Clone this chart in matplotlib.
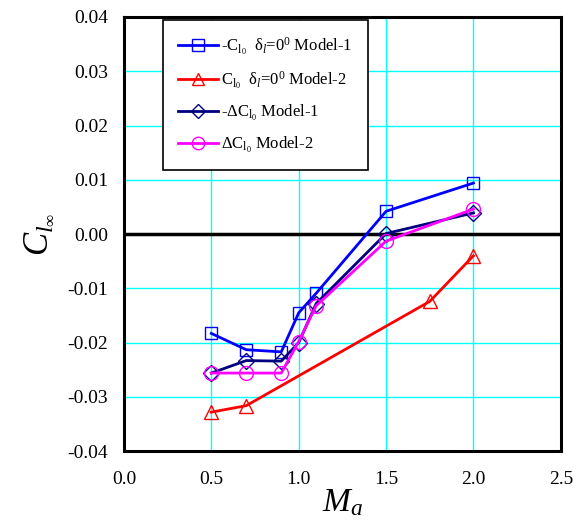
import matplotlib
matplotlib.use("Agg")
import matplotlib.pyplot as plt

plt.rcParams["font.family"] = ["Liberation Serif", "DejaVu Serif"]
plt.rcParams["mathtext.fontset"] = "custom"
plt.rcParams["mathtext.rm"] = "Liberation Serif"
plt.rcParams["mathtext.it"] = "Liberation Serif:italic"

# Mach numbers and rolling moment coefficients
mach_m1 = [0.5, 0.7, 0.9, 1.0, 1.1, 1.5, 2.0]
cl0_m1 = [-0.0183, -0.0213, -0.0217, -0.0145, -0.0109, 0.0042, 0.0094]

mach_m2 = [0.5, 0.7, 1.75, 2.0]
cl0_m2 = [-0.0328, -0.0316, -0.0124, -0.0040]

dcl0_m1 = [-0.0256, -0.0233, -0.0234, -0.0200, -0.0128, 0.0001, 0.0039]
dcl0_m2 = [-0.0256, -0.0256, -0.0256, -0.0198, -0.0132, -0.0013, 0.0046]

xticks = [0.0, 0.5, 1.0, 1.5, 2.0, 2.5]
yticks = [-0.04, -0.03, -0.02, -0.01, 0.00, 0.01, 0.02, 0.03, 0.04]

fig = plt.figure(figsize=(5.74, 5.29), dpi=100)
ax = fig.add_axes([0.216, 0.147, 0.761, 0.821])

ax.plot(mach_m1, cl0_m1, color="#0000ff", lw=2, marker="s", ms=9, mfc="none",
        mec="#0000ff", mew=1, label="-C$_{\\mathrm{l}_{0}}$  δ$_{l}$=0$^{0}$ Model-1")
ax.plot(mach_m2, cl0_m2, color="#ff0000", lw=2, marker="^", ms=10, mfc="none",
        mec="#ff0000", mew=1, label="C$_{\\mathrm{l}_{0}}$  δ$_{l}$=0$^{0}$ Model-2")
ax.plot(mach_m1, dcl0_m1, color="#000080", lw=2, marker="D", ms=8, mfc="none",
        mec="#000080", mew=1, label="-ΔC$_{\\mathrm{l}_{0}}$ Model-1")
ax.plot(mach_m1, dcl0_m2, color="#ff00ff", lw=2, marker="o", ms=10, mfc="none",
        mec="#ff00ff", mew=1, label="ΔC$_{\\mathrm{l}_{0}}$ Model-2")

ax.axhline(0.0, color="black", lw=2.5, zorder=1.5)

ax.set_xlim(0, 2.5)
ax.set_ylim(-0.04, 0.04)
ax.set_xticks(xticks)
ax.set_yticks(yticks)
ax.set_xticklabels(["%.1f" % v for v in xticks])
ax.set_yticklabels(["%.2f" % v for v in yticks])
ax.tick_params(length=0, labelsize=14)
ax.tick_params(axis="x", pad=14)
ax.tick_params(axis="y", pad=11.5)
ax.grid(True, color="#00ffff", lw=1)
ax.set_axisbelow(True)
for s in ax.spines.values():
    s.set_linewidth(2.2)

ax.set_xlabel(r"$M_a$", fontsize=24, labelpad=0)
ax.set_ylabel(r"$C_{l_{\infty}}$", fontsize=25, labelpad=9)

leg = ax.legend(loc="upper left", bbox_to_anchor=(0.089, 0.993), fontsize=12,
                frameon=True, fancybox=False, handlelength=2.4,
                labelspacing=0.72, borderpad=0.9, handletextpad=0.2,
                markerscale=0.9, borderaxespad=0)
leg.get_frame().set_edgecolor("black")
leg.get_frame().set_linewidth(1.2)
leg.get_frame().set_alpha(1)

fig.savefig("out.png", dpi=100)
